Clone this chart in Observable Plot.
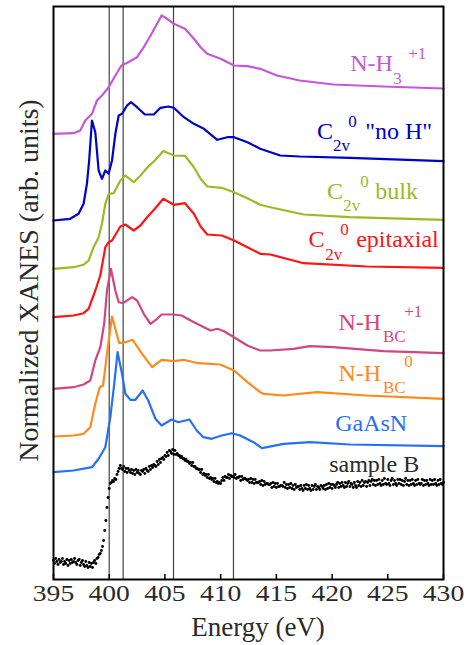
<!DOCTYPE html>
<html><head><meta charset="utf-8">
<script src="https://cdn.jsdelivr.net/npm/d3@7"></script>
<script src="https://cdn.jsdelivr.net/npm/@observablehq/plot@0.6"></script>
<style>
html,body{margin:0;padding:0;background:#fff}
#chart svg, #chart svg text { font-family: "Liberation Serif", "Times New Roman", Times, serif !important; }
</style>
</head><body><div id="chart"></div>
<script>
// ---- axis ticks and reference lines ----
const xTicks = [395, 400, 405, 410, 415, 420, 425, 430];
const guideLines = [400.0, 401.25, 405.77, 411.15];

// ---- spectra (energy in eV, normalized XANES offset, arb. units) ----
const nh3Energy = [395.0,396.8,397.4,397.85,398.45,398.9,399.35,399.95,400.55,401.1,401.7,402.5,403.1,403.8,404.7,405.2,405.8,406.8,407.6,408.2,408.8,410.0,411.2,412.4,413.55,415.05,417.1,420.1,424.6,430.0];
const nh3Value  = [44.57,44.63,44.9,45.9,46.57,47.9,48.4,49.23,50.4,51.4,51.73,52.23,53.23,54.57,56.4,56.07,55.57,55.07,54.07,53.23,52.57,52.07,51.4,51.33,51.07,50.4,49.9,49.5,49.3,49.1];

const noHEnergy = [395.0,396.5,397.25,397.7,398.0,398.2,398.45,398.75,399.05,399.35,399.65,399.95,400.25,400.55,400.85,401.15,401.6,401.95,402.5,403.2,404.0,404.6,405.3,405.8,406.7,407.6,408.5,409.7,410.6,411.2,412.4,413.55,415.35,417.1,421.6,430.0];
const noHValue  = [35.9,36.07,36.57,37.57,39.57,41.9,45.9,44.73,40.9,40.07,40.9,40.57,41.9,44.57,46.4,46.57,47.4,47.73,47.23,46.5,46.5,47.17,47.3,47.17,46.23,45.57,45.07,43.97,44.23,44.23,43.73,43.07,42.4,42.3,42.17,41.83];

const bulkEnergy = [395.0,396.8,397.7,398.15,398.6,399.05,399.35,399.65,399.95,400.4,401.0,401.45,402.2,402.8,403.5,404.1,404.85,405.8,406.8,407.6,408.2,408.8,410.1,411.2,412.4,413.55,414.45,417.45,421.6,430.0];
const bulkValue  = [31.07,31.23,31.47,31.9,33.23,34.23,35.57,37.57,38.57,38.63,39.9,40.4,39.73,40.4,41.3,41.9,42.85,42.4,42.37,41.23,40.07,39.3,39.17,38.73,38.13,37.47,37.23,36.5,36.23,35.97];

const epiEnergy = [395.0,396.8,397.7,398.15,398.75,399.2,399.65,399.95,400.25,401.0,401.45,402.2,402.8,403.4,404.1,404.85,405.8,406.8,407.6,408.2,408.8,410.1,411.2,412.4,413.55,414.45,417.45,423.1,430.0];
const epiValue  = [26.23,26.4,26.63,27.07,28.9,30.4,33.23,33.73,33.9,35.3,35.5,34.9,35.4,36.23,37.07,38.07,37.47,37.63,36.57,35.3,34.5,34.4,33.9,33.23,32.57,32.5,31.63,31.3,31.17];

const nhbc1Energy = [395.0,396.8,397.7,398.3,398.75,399.2,399.55,399.8,400.15,400.55,400.85,401.25,402.05,402.5,403.1,403.7,404.3,404.7,405.8,406.5,407.3,408.5,409.1,409.7,410.3,411.2,412.4,413.55,414.45,416.55,418.0,420.1,424.6,430.0];
const nhbc1Value  = [19.07,19.23,19.5,19.9,21.9,23.23,25.6,28.9,31.07,28.9,27.73,27.63,28.23,27.9,26.57,25.57,26.07,26.5,26.5,26.4,25.9,25.23,24.9,25.07,24.83,24.23,23.4,22.9,22.9,23.07,23.33,23.23,22.83,22.63];

const nhbc0Energy = [395.0,396.8,397.7,398.3,398.75,399.15,399.45,399.8,400.25,400.9,401.45,402.1,402.95,403.85,404.7,405.8,406.65,408.0,409.95,411.2,412.4,413.55,413.85,415.65,418.65,423.1,430.0];
const nhbc0Value  = [14.3,14.4,14.57,15.23,17.57,19.23,19.4,22.57,26.3,23.63,23.73,23.97,22.57,21.23,21.97,21.83,21.97,21.63,21.5,20.9,19.73,18.73,18.57,18.4,18.73,18.4,18.07];

const gaasnEnergy = [395.0,396.8,398.45,399.05,399.65,400.1,400.45,400.75,401.15,401.45,401.9,402.35,403.0,403.5,404.15,404.7,405.6,406.2,407.2,407.85,408.45,409.2,410.1,411.0,411.75,412.95,413.7,415.65,418.05,421.6,430.0];
const gaasnValue  = [10.73,10.9,11.23,12.07,13.23,16.23,19.57,22.73,20.57,18.57,17.97,17.97,18.9,17.9,16.07,15.4,16.0,15.73,16.0,14.9,14.23,14.07,14.4,14.63,14.4,13.73,13.13,13.57,13.73,13.5,13.33];

// measured sample B: energy grid start/step and read-off values
const sampleBStart = 395.0;
const sampleBStep = 0.1;
const sampleBValue = [
1.9,1.6,2.1,1.8,1.5,2.0,1.7,1.8,2.1,1.5,
1.8,1.6,2.0,1.4,1.9,1.6,2.0,1.7,1.8,2.1,
1.7,1.5,1.9,2.0,1.4,1.7,1.9,1.5,1.3,1.8,
1.4,1.2,1.7,1.3,1.6,1.2,1.7,1.9,1.6,2.1,
2.2,2.5,2.6,2.9,3.3,3.9,4.9,5.9,7.2,8.2,
9.1,9.6,9.7,9.9,9.8,10.1,10.0,10.5,10.8,11.1,
11.4,11.1,11.0,11.3,10.8,11.1,10.7,11.1,10.9,10.7,
11.0,10.6,10.9,10.5,11.0,10.7,10.9,10.6,10.5,10.9,
10.8,11.0,10.6,11.1,10.9,10.8,11.3,11.0,11.4,11.2,
11.5,11.4,11.3,11.8,11.5,12.0,11.7,12.1,12.2,12.0,
12.4,12.3,12.7,12.4,12.9,12.8,12.6,13.0,12.5,12.9,
12.5,12.6,12.4,12.4,12.2,12.3,12.1,12.1,11.9,12.0,
11.8,11.8,11.6,11.7,11.4,11.7,11.3,11.3,11.1,11.1,
11.0,11.0,10.7,11.0,10.5,10.6,10.4,10.5,10.2,10.5,
10.1,10.2,10.0,10.1,9.8,10.1,9.7,9.8,9.6,9.7,
9.6,9.9,10.2,9.9,10.3,10.2,10.2,10.5,10.1,10.4,
10.3,10.3,10.2,10.5,10.1,10.2,10.2,10.3,9.9,10.3,
10.0,10.1,10.1,10.0,9.9,10.0,9.7,10.1,9.7,10.0,
9.6,10.0,9.7,9.7,9.7,9.8,9.5,9.9,9.4,9.8,
9.5,9.6,9.6,9.5,9.5,9.6,9.2,9.7,9.3,9.6,
9.2,9.6,9.3,9.3,9.4,9.4,9.3,9.7,9.2,9.5,
9.1,9.5,9.2,9.6,9.1,9.4,9.0,9.5,9.2,9.3,
9.3,9.0,9.4,9.1,8.9,9.4,9.1,9.5,9.0,9.4,
9.1,8.9,9.4,9.0,9.3,9.5,9.0,9.3,9.2,9.0,
9.4,9.3,9.1,9.4,9.0,9.5,9.1,9.6,9.2,9.5,
9.1,9.5,9.4,9.2,9.5,9.7,9.2,9.6,9.3,9.7,
9.4,9.2,9.7,9.3,9.6,9.8,9.3,9.6,9.5,9.2,
9.7,9.4,9.2,9.8,9.4,9.7,9.3,9.9,9.4,9.7,
9.8,9.3,9.7,9.9,9.4,9.8,10.0,9.5,9.9,9.4,
9.9,9.5,10.0,9.6,9.4,9.9,9.5,10.1,9.6,9.5,
10.0,9.6,9.4,9.9,10.1,9.5,9.9,9.6,9.4,10.0,
9.6,10.0,9.5,9.9,9.4,9.8,10.1,9.5,9.9,9.4,
9.9,9.5,10.0,9.6,9.4,9.9,9.5,10.0,9.6,9.5,
9.6,10.0,9.4,9.9,9.5,9.9,9.6,9.4,10.0,9.5,
9.9,9.5,10.0,9.6,9.4,9.9,9.5,10.0,9.6,9.5,9.7];

// ---- series styling ----
const seriesColors = ["#c458d8", "#0000cd", "#9abb23", "#ff1414", "#d4457f", "#ff8a1c", "#2570f5"];
const seriesData = [
  [nh3Energy, nh3Value], [noHEnergy, noHValue], [bulkEnergy, bulkValue], [epiEnergy, epiValue],
  [nhbc1Energy, nhbc1Value], [nhbc0Energy, nhbc0Value], [gaasnEnergy, gaasnValue]
];

// ---- labels: anchor in data coordinates, parts offset in pixels ----
const labels = [
  {x: 421.63, y: 50.9,  color: seriesColors[0], parts: [["N-H",0,0,false],["3",43,13,true],["+1",58,-12,true]]},
  {x: 418.64, y: 44.07, color: seriesColors[1], parts: [["C",0,0,false],["2v",16,11.7,true],["0",31.3,-12.3,true],["\"no H\"",48.3,0,false]]},
  {x: 419.54, y: 38.07, color: seriesColors[2], parts: [["C",0,0,false],["2v",16.3,12.4,true],["0",33.3,-11.6,true],["bulk",48.3,0,false]]},
  {x: 417.88, y: 33.3,  color: seriesColors[3], parts: [["C",0,0,false],["2v",16.7,13.3,true],["0",31.7,-12,true],["epitaxial",47.7,0,false]]},
  {x: 420.58, y: 24.97, color: seriesColors[4], parts: [["N-H",0,0,false],["BC",44.4,12.4,true],["+1",65.7,-13.3,true]]},
  {x: 420.58, y: 19.9,  color: seriesColors[5], parts: [["N-H",0,0,false],["BC",44.4,12.7,true],["0",65.7,-13.3,true]]},
  {x: 420.28, y: 14.83, color: seriesColors[6], parts: [["GaAsN",0,0,false]]},
  {x: 419.74, y: 10.8,  color: "#2a2a2a",       parts: [["sample B",0,0,false]]}
];

const serif = "Liberation Serif, Times New Roman, Times, serif";

const lineMarks = seriesData.map(([E, V], k) =>
  Plot.line(E.map((e, i) => ({energy: e, value: V[i]})), {x: "energy", y: "value", stroke: seriesColors[k], strokeWidth: 2.2, strokeLinejoin: "round"})
);
const sampleB = sampleBValue.map((v, i) => ({energy: sampleBStart + i * sampleBStep, value: v}));

const labelMarks = [];
labels.forEach(l => l.parts.forEach(([t, dx, dy, small]) => {
  labelMarks.push(Plot.text([l], {x: "x", y: "y", text: () => t, fill: l.color, fontSize: small ? 17 : 24,
    fontFamily: serif, textAnchor: "start", lineAnchor: "bottom", dx, dy}));
}));

const chart = Plot.plot({
  width: 471, height: 645,
  marginLeft: 53, marginRight: 28, marginTop: 6, marginBottom: 66,
  x: {domain: [395, 430]},
  y: {domain: [0, 57.3], axis: null},
  style: {background: "#fff", color: "#2a2a2a"},
  marks: [
    Plot.ruleX(guideLines, {stroke: "#444", strokeWidth: 1.2}),
    ...lineMarks,
    Plot.dot(sampleB, {x: "energy", y: "value", r: 1.45, fill: "#000"}),
    Plot.ruleX(xTicks, {y1: 0, y2: 0.5, stroke: "#000", strokeWidth: 1.5}),
    Plot.axisX({ticks: xTicks, tickSize: 0, tickPadding: 5, fontSize: 23, fontFamily: serif, label: null, tickFormat: d => String(d)}),
    Plot.frame({stroke: "#000", strokeWidth: 2}),
    Plot.text(["Energy (eV)"], {frameAnchor: "bottom", textAnchor: "middle", dx: 9.5, dy: 56, lineAnchor: "bottom", fontSize: 27, fontFamily: serif}),
    Plot.text(["Normalized XANES (arb. units)"], {frameAnchor: "left", textAnchor: "middle", rotate: -90, dx: -16, dy: -12.5, lineAnchor: "bottom", fontSize: 28, fontFamily: serif}),
    ...labelMarks
  ]
});
chart.querySelectorAll('g[aria-label="x-axis tick label"] text').forEach(t => {
  t.setAttribute("transform", (t.getAttribute("transform") || "") + " scale(1.2,1)");
});
document.getElementById("chart").appendChild(chart);
</script>
</body></html>
